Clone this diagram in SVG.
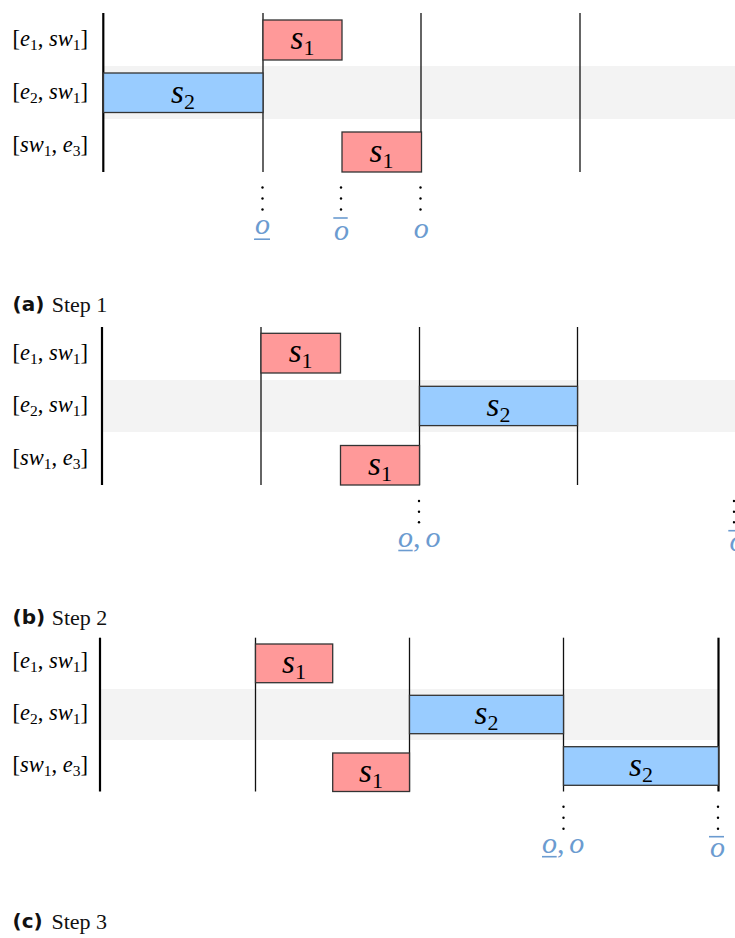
<svg xmlns="http://www.w3.org/2000/svg" width="735" height="938" viewBox="0 0 735 938">
<style>
.band{fill:#f3f3f3;stroke:none}
.thick{stroke:#000;stroke-width:2.2}
.thin{stroke:#111;stroke-width:1.3}
.r{fill:#ff9999;stroke:#333;stroke-width:1.3}
.b{fill:#99ccff;stroke:#333;stroke-width:1.3}
.lab{font-family:"Liberation Serif","Times New Roman",serif;font-size:22.5px;fill:#000}
.mi{font-style:italic}
.sub{font-size:15.5px;font-style:normal}
.s{font-family:"Liberation Serif","Times New Roman",serif;font-size:33px;font-style:italic;fill:#000;text-anchor:middle}
.ss{font-size:22px;font-style:normal}
.o{font-family:"Liberation Serif","Times New Roman",serif;font-size:30px;font-style:italic;fill:#6b9bd0;text-anchor:middle}
.cm{font-family:"Liberation Serif","Times New Roman",serif;font-size:30px;fill:#6b9bd0}
.bar{stroke:#6b9bd0;stroke-width:1.6}
.dot{fill:#000}
.capb{font-family:"DejaVu Sans",sans-serif;font-weight:bold;font-size:20px;fill:#111}
.cap{font-family:"Liberation Serif","Times New Roman",serif;font-size:22px;fill:#111}
</style>

<!-- Panel (a) -->
<g id="panel-a">
  <rect class="band" x="103.3" y="66" width="631.7" height="53"/>
  <g id="a-labels">
    <text class="lab" x="12.5" y="46">[<tspan class="mi">e</tspan><tspan class="sub" dy="4">1</tspan><tspan dy="-4">, </tspan><tspan class="mi">sw</tspan><tspan class="sub" dy="4">1</tspan><tspan dy="-4">]</tspan></text>
    <text class="lab" x="12.5" y="98.5">[<tspan class="mi">e</tspan><tspan class="sub" dy="4">2</tspan><tspan dy="-4">, </tspan><tspan class="mi">sw</tspan><tspan class="sub" dy="4">1</tspan><tspan dy="-4">]</tspan></text>
    <text class="lab" x="12.5" y="151.5">[<tspan class="mi">sw</tspan><tspan class="sub" dy="4">1</tspan><tspan dy="-4">, </tspan><tspan class="mi">e</tspan><tspan class="sub" dy="4">3</tspan><tspan dy="-4">]</tspan></text>
  </g>
  <g id="a-grid">
    <line class="thick" x1="103.3" y1="13" x2="103.3" y2="172"/>
    <line class="thin" x1="263" y1="13" x2="263" y2="172"/>
    <line class="thin" x1="421" y1="13" x2="421" y2="172"/>
    <line class="thin" x1="580" y1="13" x2="580" y2="172"/>
  </g>
  <g id="a-s1-r1"><rect class="r" x="263" y="20" width="79" height="40"/><text class="s" x="302.5" y="49">s<tspan class="ss" dy="6">1</tspan></text></g>
  <g id="a-s2-r2"><rect class="b" x="103.5" y="73" width="159.5" height="39.5"/><text class="s" x="183" y="103">s<tspan class="ss" dy="6">2</tspan></text></g>
  <g id="a-s1-r3"><rect class="r" x="342" y="132" width="79.5" height="40"/><text class="s" x="381.5" y="162">s<tspan class="ss" dy="6">1</tspan></text></g>
  <g id="a-marks">
    <circle class="dot" cx="262.5" cy="187.5" r="1.2"/><circle class="dot" cx="262.5" cy="198.5" r="1.2"/><circle class="dot" cx="262.5" cy="209.5" r="1.2"/>
    <circle class="dot" cx="341" cy="187.5" r="1.2"/><circle class="dot" cx="341" cy="198.5" r="1.2"/><circle class="dot" cx="341" cy="209.5" r="1.2"/>
    <circle class="dot" cx="420.5" cy="187.5" r="1.2"/><circle class="dot" cx="420.5" cy="198.5" r="1.2"/><circle class="dot" cx="420.5" cy="209.5" r="1.2"/>
    <text class="o" x="262.5" y="233.5">o</text><line class="bar" x1="254" y1="239.2" x2="270" y2="239.2"/>
    <text class="o" x="341.5" y="239.5">o</text><line class="bar" x1="333.3" y1="218" x2="347.7" y2="218"/>
    <text class="o" x="421.3" y="237.5">o</text>
  </g>
  <text class="capb" x="12.5" y="311">(a)</text>
  <text class="cap" x="51.7" y="312">Step 1</text>
</g>

<!-- Panel (b) -->
<g id="panel-b">
  <rect class="band" x="102" y="380" width="633" height="52"/>
  <g id="b-labels">
    <text class="lab" x="12.5" y="359.5">[<tspan class="mi">e</tspan><tspan class="sub" dy="4">1</tspan><tspan dy="-4">, </tspan><tspan class="mi">sw</tspan><tspan class="sub" dy="4">1</tspan><tspan dy="-4">]</tspan></text>
    <text class="lab" x="12.5" y="411.5">[<tspan class="mi">e</tspan><tspan class="sub" dy="4">2</tspan><tspan dy="-4">, </tspan><tspan class="mi">sw</tspan><tspan class="sub" dy="4">1</tspan><tspan dy="-4">]</tspan></text>
    <text class="lab" x="12.5" y="464.5">[<tspan class="mi">sw</tspan><tspan class="sub" dy="4">1</tspan><tspan dy="-4">, </tspan><tspan class="mi">e</tspan><tspan class="sub" dy="4">3</tspan><tspan dy="-4">]</tspan></text>
  </g>
  <g id="b-grid">
    <line class="thick" x1="102" y1="327" x2="102" y2="485"/>
    <line class="thin" x1="261" y1="327" x2="261" y2="485"/>
    <line class="thin" x1="419.5" y1="327" x2="419.5" y2="485"/>
    <line class="thin" x1="577.5" y1="327" x2="577.5" y2="485"/>
  </g>
  <g id="b-s1-r1"><rect class="r" x="261" y="333.3" width="79.5" height="39.7"/><text class="s" x="300.7" y="362">s<tspan class="ss" dy="6">1</tspan></text></g>
  <g id="b-s2-r2"><rect class="b" x="419.5" y="386.3" width="158" height="39.3"/><text class="s" x="498.5" y="415.5">s<tspan class="ss" dy="6">2</tspan></text></g>
  <g id="b-s1-r3"><rect class="r" x="340.5" y="445.5" width="79" height="39.5"/><text class="s" x="380" y="475">s<tspan class="ss" dy="6">1</tspan></text></g>
  <g id="b-marks">
    <circle class="dot" cx="419" cy="501" r="1.2"/><circle class="dot" cx="419" cy="511.7" r="1.2"/><circle class="dot" cx="419" cy="522.3" r="1.2"/>
    <circle class="dot" cx="734" cy="501" r="1.2"/><circle class="dot" cx="734" cy="511.7" r="1.2"/><circle class="dot" cx="734" cy="522.3" r="1.2"/>
    <text class="o" x="405.5" y="546.5">o</text><line class="bar" x1="398.3" y1="550.5" x2="412.7" y2="550.5"/>
    <text class="cm" x="413" y="546.5">,</text>
    <text class="o" x="433" y="546.5">o</text>
    <text class="o" x="737" y="551">o</text><line class="bar" x1="728.3" y1="530.7" x2="742" y2="530.7"/>
  </g>
  <text class="capb" x="12.5" y="624">(b)</text>
  <text class="cap" x="51.7" y="625">Step 2</text>
</g>

<!-- Panel (c) -->
<g id="panel-c">
  <rect class="band" x="100" y="689" width="618.5" height="51"/>
  <g id="c-labels">
    <text class="lab" x="12.5" y="667.5">[<tspan class="mi">e</tspan><tspan class="sub" dy="4">1</tspan><tspan dy="-4">, </tspan><tspan class="mi">sw</tspan><tspan class="sub" dy="4">1</tspan><tspan dy="-4">]</tspan></text>
    <text class="lab" x="12.5" y="719.5">[<tspan class="mi">e</tspan><tspan class="sub" dy="4">2</tspan><tspan dy="-4">, </tspan><tspan class="mi">sw</tspan><tspan class="sub" dy="4">1</tspan><tspan dy="-4">]</tspan></text>
    <text class="lab" x="12.5" y="772">[<tspan class="mi">sw</tspan><tspan class="sub" dy="4">1</tspan><tspan dy="-4">, </tspan><tspan class="mi">e</tspan><tspan class="sub" dy="4">3</tspan><tspan dy="-4">]</tspan></text>
  </g>
  <g id="c-grid">
    <line class="thick" x1="100" y1="637.7" x2="100" y2="791.5"/>
    <line class="thin" x1="255.5" y1="637.7" x2="255.5" y2="791.5"/>
    <line class="thin" x1="409.5" y1="637.7" x2="409.5" y2="791.5"/>
    <line class="thin" x1="563.5" y1="637.7" x2="563.5" y2="791.5"/>
    <line class="thick" x1="718.5" y1="637.7" x2="718.5" y2="791.5"/>
  </g>
  <g id="c-s1-r1"><rect class="r" x="255.5" y="644" width="77.2" height="38.7"/><text class="s" x="294" y="672.5">s<tspan class="ss" dy="6">1</tspan></text></g>
  <g id="c-s2-r2"><rect class="b" x="409.5" y="695.3" width="154" height="38.4"/><text class="s" x="486.5" y="724">s<tspan class="ss" dy="6">2</tspan></text></g>
  <g id="c-s1-r3"><rect class="r" x="332.7" y="753" width="76.8" height="38.5"/><text class="s" x="371" y="782">s<tspan class="ss" dy="6">1</tspan></text></g>
  <g id="c-s2-r3"><rect class="b" x="563.5" y="746.7" width="155" height="38.6"/><text class="s" x="641" y="775.5">s<tspan class="ss" dy="6">2</tspan></text></g>
  <g id="c-marks">
    <circle class="dot" cx="563.5" cy="806.7" r="1.2"/><circle class="dot" cx="563.5" cy="817.7" r="1.2"/><circle class="dot" cx="563.5" cy="828.7" r="1.2"/>
    <circle class="dot" cx="718" cy="806.7" r="1.2"/><circle class="dot" cx="718" cy="817.7" r="1.2"/><circle class="dot" cx="718" cy="828.7" r="1.2"/>
    <text class="o" x="549.5" y="853">o</text><line class="bar" x1="542" y1="856.7" x2="556.7" y2="856.7"/>
    <text class="cm" x="557" y="853">,</text>
    <text class="o" x="576.7" y="852.5">o</text>
    <text class="o" x="717.5" y="856.5">o</text><line class="bar" x1="709" y1="836.7" x2="724" y2="836.7"/>
  </g>
  <text class="capb" x="12.5" y="928">(c)</text>
  <text class="cap" x="51.5" y="929">Step 3</text>
</g>
</svg>
